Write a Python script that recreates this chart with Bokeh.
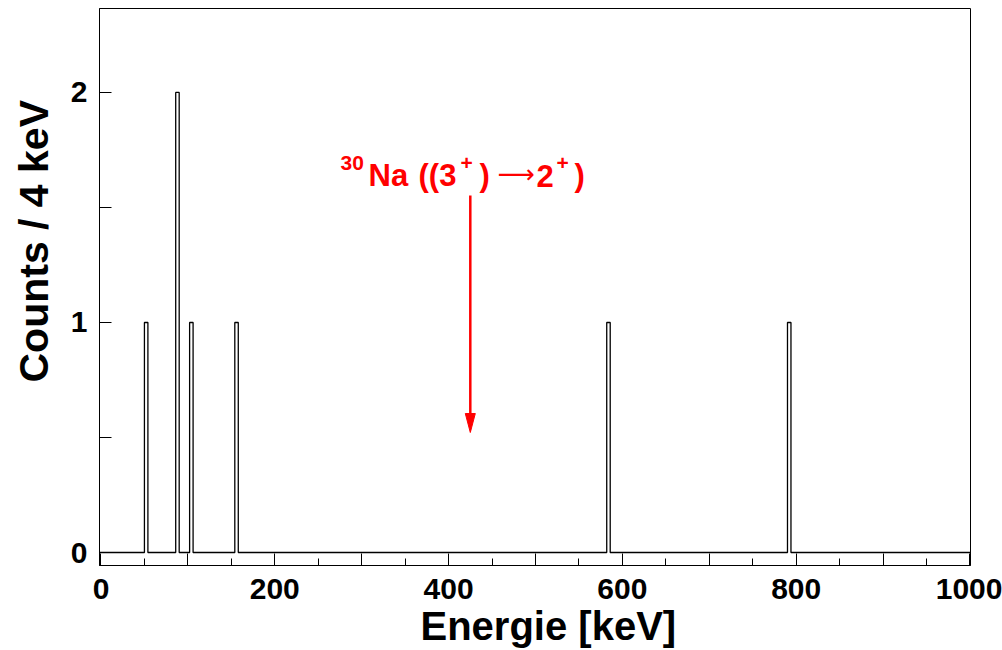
import math
from bokeh.plotting import figure
from bokeh.models import Range1d, FixedTicker, Label, Title
from bokeh.embed import file_html
from bokeh.resources import INLINE

# ---------------- data ----------------
bin_centers_keV = [52, 88, 104, 156, 584, 792]
counts = [1, 2, 1, 1, 1, 1]
bin_width_keV = 4
hist_range_keV = [-2, 1000]

x_major_ticks = [0, 100, 200, 300, 400, 500, 600, 700, 800, 900, 1000]
x_labelled_ticks = [0, 200, 400, 600, 800, 1000]
x_minor_ticks = [50, 150, 250, 350, 450, 550, 650, 750, 850, 950]
y_major_ticks = [0, 1, 2]
y_minor_ticks = [0.5, 1.5]

x_title = "Energie [keV]"
y_title = "Counts / 4 keV"

# annotation: 30Na ((3+) -> 2+) with an arrow pointing to the expected line
annot_pieces = ["30", "Na", "((3", "+", ")", "\u27f6", "2", "+", ")"]
annot_kind = ["sup", "main", "main", "sup", "main", "arrow", "main", "sup", "main"]
annot_energy_keV = 425

# ---------------- geometry ----------------
X0, X1 = -1.7, 1000.6
Y0, Y1 = -0.0565, 2.365
FL, FR, FT, FB = 99, 970, 8, 565  # frame in canvas pixels
W, H = 1002, 650


def px_x(px):
    return X0 + (px - FL) / (FR - FL) * (X1 - X0)


def px_y(py):
    return Y0 + (FB - py) / (FB - FT) * (Y1 - Y0)


p = figure(frame_width=FR - FL, frame_height=FB - FT, output_backend="svg",
           toolbar_location=None,
           x_range=Range1d(X0, X1), y_range=Range1d(Y0, Y1),
           min_border_left=FL, min_border_right=W - FR,
           min_border_top=FT, min_border_bottom=H - FB)
p.background_fill_color = "white"
p.border_fill_color = "white"
p.outline_line_color = "black"
p.outline_line_width = 1
p.xgrid.visible = False
p.ygrid.visible = False

# histogram outline built from the bin data
hx = [hist_range_keV[0]]
hy = [0]
for c, n in zip(bin_centers_keV, counts):
    lo, hi = c - bin_width_keV / 2, c + bin_width_keV / 2
    hx += [lo, lo, hi, hi]
    hy += [0, n, n, 0]
hx.append(hist_range_keV[1])
hy.append(0)
p.line(hx, hy, line_color="black", line_width=1.3)

# axes
FONT = "Liberation Sans"
xa = p.xaxis[0]
xa.ticker = FixedTicker(ticks=x_major_ticks, minor_ticks=x_minor_ticks)
xa.major_label_overrides = {t: ("" if t not in x_labelled_ticks else str(t)) for t in x_major_ticks}
ya = p.yaxis[0]
ya.ticker = FixedTicker(ticks=y_major_ticks, minor_ticks=y_minor_ticks)
for ax in (xa, ya):
    ax.axis_line_color = "black"
    ax.axis_line_width = 1
    ax.major_tick_line_color = "black"
    ax.minor_tick_line_color = "black"
    ax.major_tick_out = 0
    ax.minor_tick_out = 0
    ax.major_tick_in = 12
    ax.major_label_text_font = FONT
    ax.major_label_text_font_style = "bold"
    ax.major_label_text_font_size = "30px"
    ax.major_label_text_color = "black"
xa.minor_tick_in = 7
ya.minor_tick_in = 12
xa.major_label_standoff = 13
ya.major_label_standoff = 12

# axis titles
p.add_layout(Title(text=x_title, align="left", offset=321, standoff=1,
                   text_font=FONT, text_font_style="bold", text_font_size="40px",
                   text_color="black"), "below")
p.add_layout(Title(text=y_title, align="left", offset=183, standoff=18,
                   vertical_align="top",
                   text_font=FONT, text_font_style="bold", text_font_size="41px",
                   text_color="black"), "left")

# annotation text pieces
lefts = [340, 368, 418, 460, 479, 497, 536, 556, 574]
for txt, kind, lx in zip(annot_pieces, annot_kind, lefts):
    if kind == "main":
        size, base, font, style = "31px", 175, FONT, "bold"
    elif kind == "sup":
        size, base, font, style = "21px", 162, FONT, "bold"
    else:
        size, base, font, style = "26px", 173, "DejaVu Sans", "normal"
    p.add_layout(Label(x=px_x(lx), y=px_y(base), text=txt, text_font=font,
                       text_font_style=style, text_font_size=size, text_color="red",
                       text_align="left", text_baseline="alphabetic"))

# arrow
ax_x = annot_energy_keV
y_top, y_tip = px_y(195), px_y(432)
head_len = px_y(413) - px_y(432)
head_half = (px_x(475) - px_x(465)) / 2
p.line([ax_x, ax_x], [y_top, y_tip + head_len * 0.5], line_color="red", line_width=2.5)
p.patch([ax_x - head_half, ax_x + head_half, ax_x], [y_tip + head_len, y_tip + head_len, y_tip],
        fill_color="red", line_color="red", line_width=1)

open("out.html", "w").write(file_html(p, INLINE))
